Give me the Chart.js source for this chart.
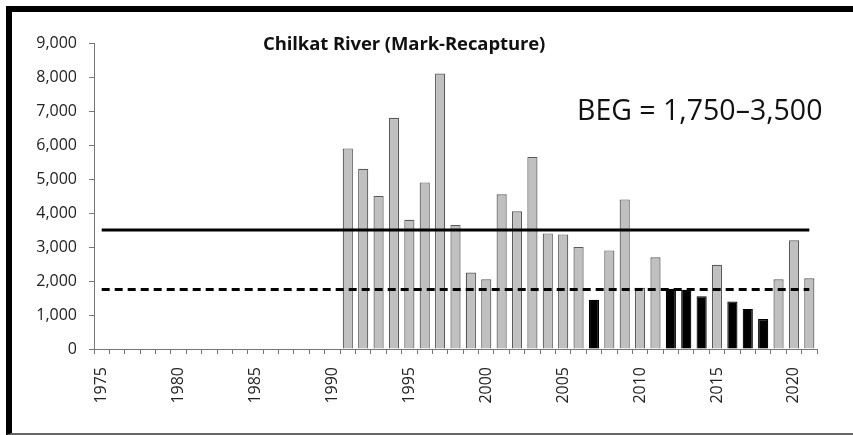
<!DOCTYPE html>
<html>
<head>
<meta charset="utf-8">
<script src="https://cdn.jsdelivr.net/npm/chart.js@4.4.1/dist/chart.umd.min.js"></script>
<style>
  html, body { margin: 0; padding: 0; background: #fff; }
  #wrap { position: relative; width: 853px; height: 435px; overflow: hidden; }
  #chart-box { position: absolute; left: 0; top: 0; width: 853px; height: 435px; }
  #frame {
    position: absolute; left: 6px; top: 6px; width: 860px; height: 429px;
    border-top: 6px solid #000; border-left: 6px solid #000;
    border-bottom: 2px solid #666; box-sizing: border-box; pointer-events: none;
  }
  .txt { position: absolute; color: #111; font-family: 'Open Sans', sans-serif; white-space: nowrap; }
  #title { left: 263px; top: 30px; font-size: 18.5px; font-weight: bold; letter-spacing: -0.1px; }
  #beg { left: 577px; top: 90px; font-size: 28.5px; }
</style>
</head>
<body>
<div id="wrap">
  <div id="chart-box"><canvas id="bar-chart" width="853" height="435"></canvas></div>
  <div id="frame"></div>
  <div class="txt" id="title">Chilkat River (Mark-Recapture)</div>
  <div class="txt" id="beg">BEG = 1,750–3,500</div>
</div>
<script>
'use strict';

var YEARS = [];
for (var y = 1975; y <= 2021; y++) YEARS.push(y);

// escapement estimates 1991-2021 (earlier years have no estimate)
var ESC_YEARS = [1991, 1992, 1993, 1994, 1995, 1996, 1997, 1998, 1999, 2000,
                 2001, 2002, 2003, 2004, 2005, 2006, 2007, 2008, 2009, 2010,
                 2011, 2012, 2013, 2014, 2015, 2016, 2017, 2018, 2019, 2020, 2021];
var ESC_VALUES = [5900, 5300, 4500, 6800, 3800, 4900, 8100, 3650, 2250, 2050,
                  4550, 4050, 5650, 3400, 3370, 3000, 1450, 2900, 4400, 1800,
                  2700, 1770, 1740, 1550, 2480, 1400, 1180, 880, 2050, 3200, 2080];
var BELOW_GOAL = [2007, 2012, 2013, 2014, 2016, 2017, 2018];

var GOAL_LOWER = 1750;
var GOAL_UPPER = 3500;
var Y_TICKS = [0, 1000, 2000, 3000, 4000, 5000, 6000, 7000, 8000, 9000];

var barData = YEARS.map(function(yr) {
  var i = ESC_YEARS.indexOf(yr);
  return i < 0 ? null : ESC_VALUES[i];
});
var barColors = YEARS.map(function(yr) {
  return BELOW_GOAL.indexOf(yr) >= 0 ? '#000000' : '#c0c0c0';
});
var barBorders = YEARS.map(function(yr) {
  return BELOW_GOAL.indexOf(yr) >= 0 ? '#000000' : '#5a5a5a';
});

var ctx = document.getElementById('bar-chart').getContext('2d');

new Chart(ctx, {
  type: 'bar',
  data: {
    labels: YEARS.map(String),
    datasets: [
      {
        type: 'line',
        data: YEARS.map(function() { return GOAL_UPPER; }),
        borderColor: '#000',
        borderWidth: 3,
        pointRadius: 0,
        order: 0,
      },
      {
        type: 'line',
        data: YEARS.map(function() { return GOAL_LOWER; }),
        borderColor: '#000',
        borderWidth: 3,
        borderDash: [8, 5],
        pointRadius: 0,
        order: 0,
      },
      {
        data: barData,
        backgroundColor: barColors,
        borderColor: barBorders,
        borderWidth: 1.2,
        borderSkipped: 'bottom',
        categoryPercentage: 1,
        barPercentage: 0.66,
        order: 1,
      },
    ],
  },
  options: {
    responsive: false,
    animation: false,
    layout: { padding: { top: 43, right: 36, left: 0, bottom: 0 } },
    plugins: { legend: { display: false }, tooltip: { enabled: false } },
    scales: {
      x: {
        grid: { display: true, drawOnChartArea: false, color: '#777', tickLength: 5 },
        border: { color: '#777', width: 1 },
        ticks: {
          autoSkip: false, minRotation: 90, maxRotation: 90, padding: 13,
          color: '#222', font: { family: 'Open Sans', size: 16 },
          callback: function(v, i) { return YEARS[i] % 5 === 0 ? String(YEARS[i]) : ''; },
        },
        afterFit: function(s) { s.height = 86; },
      },
      y: {
        min: 0, max: 9000,
        afterBuildTicks: function(s) { s.ticks = Y_TICKS.map(function(v) { return { value: v }; }); },
        grid: { display: true, drawOnChartArea: false, color: '#777', tickLength: 5 },
        border: { color: '#777', width: 1 },
        ticks: {
          padding: 12, color: '#222', font: { family: 'Open Sans', size: 16 },
          callback: function(v) { return v.toLocaleString('en-US'); },
        },
        afterFit: function(s) { s.width = 94; },
      },
    },
  },
});
</script>
</body>
</html>
